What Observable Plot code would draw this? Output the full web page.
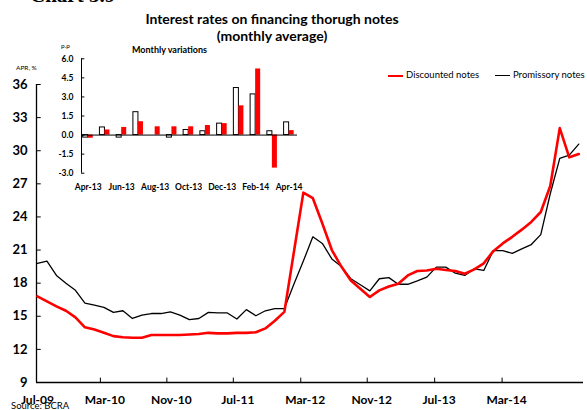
<!DOCTYPE html>
<html>
<head>
<meta charset="utf-8">
<script src="https://cdn.jsdelivr.net/npm/d3@7"></script>
<script src="https://cdn.jsdelivr.net/npm/@observablehq/plot@0.6"></script>
<style>
  html, body { margin: 0; padding: 0; background: #fff; }
  #wrap { position: relative; width: 587px; height: 410px; overflow: hidden; font-family: Lato, "Open Sans", sans-serif; color: #000; }
  .abs { position: absolute; white-space: nowrap; }
  .title { left: 0; width: 544px; text-align: center; font-weight: bold; font-size: 14px; }
  .leg { font-size: 9.5px; }
  .sw { position: absolute; height: 0; }
  svg { position: absolute; overflow: visible; }
</style>
</head>
<body>
<div id="wrap">
  <div class="abs" style="left:30px; top:-17px; font-family:'Liberation Serif',serif; font-weight:bold; font-size:21px;">Chart 3.9</div>
  <div class="abs title" style="top:10px;">Interest rates on financing thorugh notes</div>
  <div class="abs title" style="top:27px;">(monthly average)</div>
  <div class="abs" style="left:16px; top:64px; font-size:6.5px;">APR, %</div>
  <div class="abs" style="left:61px; top:42px; font-size:6.5px;">p.p</div>
  <div class="abs" style="left:132px; top:44px; font-size:9px; font-weight:bold;">Monthly variations</div>
  <div class="sw" style="left:388px; top:75px; width:15px; border-top:2.5px solid #ff0000;"></div>
  <div class="abs leg" style="left:406px; top:69px;">Discounted notes</div>
  <div class="sw" style="left:495px; top:75px; width:15px; border-top:1.5px solid #000;"></div>
  <div class="abs leg" style="left:513px; top:69px;">Promissory notes</div>
  <div class="abs" style="left:11px; top:400px; font-size:9.5px;">Source: BCRA</div>
</div>
<script>
// Monthly averages, Jul-09 .. Apr-14 (APR, %)
const discounted = [16.8, 16.35, 15.9, 15.5, 14.9, 14.0, 13.8, 13.5, 13.2, 13.1,
  13.05, 13.05, 13.3, 13.3, 13.3, 13.3, 13.35, 13.4, 13.5, 13.45,
  13.45, 13.5, 13.5, 13.55, 13.9, 14.6, 15.4, 20.8, 26.2, 25.7,
  23.4, 21.0, 19.5, 18.25, 17.5, 16.75, 17.35, 17.7, 17.95, 18.7,
  19.1, 19.15, 19.3, 19.2, 19.1, 18.85, 19.25, 19.8, 20.9, 21.6,
  22.2, 22.85, 23.55, 24.45, 26.8, 32.05, 29.4, 29.7];
const promissory = [19.8, 20.0, 18.7, 18.0, 17.35, 16.2, 16.0, 15.8, 15.35, 15.5,
  14.8, 15.1, 15.25, 15.25, 15.4, 15.1, 14.7, 14.8, 15.35, 15.3,
  15.3, 14.75, 15.6, 15.05, 15.5, 15.7, 15.7, 17.9, 20.0, 22.2,
  21.6, 20.2, 19.5, 18.4, 17.85, 17.3, 18.4, 18.5, 17.9, 17.9,
  18.2, 18.55, 19.45, 19.45, 18.9, 18.7, 19.3, 19.15, 20.95, 20.95,
  20.7, 21.1, 21.5, 22.4, 26.1, 29.3, 29.6, 30.6];
const xTickLabels = ["Jul-09", "Mar-10", "Nov-10", "Jul-11", "Mar-12", "Nov-12", "Jul-13", "Mar-14"];
const xTickAt = [0, 7.1, 14.1, 21.1, 28.2, 35.2, 42.3, 49.4];
const yTicks = [9, 12, 15, 18, 21, 24, 27, 30, 33, 36];

// Inset: monthly variations (p.p), Apr-13 .. Apr-14
const insetMonths = ["Apr-13","May-13","Jun-13","Jul-13","Aug-13","Sep-13","Oct-13","Nov-13","Dec-13","Jan-14","Feb-14","Mar-14","Apr-14"];
const promissoryVar = [-0.2, 0.6, -0.2, 1.8, 0.0, -0.2, 0.4, 0.3, 0.9, 3.7, 3.2, 0.3, 1.0];
const discountedVar = [-0.25, 0.4, 0.6, 1.05, 0.65, 0.65, 0.65, 0.75, 0.9, 2.3, 5.2, -2.6, 0.35];
const insetLabelIdx = [0, 2, 4, 6, 8, 10, 12];
const insetYTicks = [-3, -1.5, 0, 1.5, 3, 4.5, 6];

const FONT = "Lato, 'Open Sans', sans-serif";
const x0 = -0.1, x1 = 57.5;

const main = Plot.plot({
  width: 587, height: 410,
  marginTop: 84, marginBottom: 28, marginLeft: 36, marginRight: 4,
  x: {domain: [x0, x1], axis: null},
  y: {domain: [9, 36], axis: null},
  style: {fontFamily: FONT, background: "transparent", overflow: "visible"},
  marks: [
    Plot.ruleX([x0], {y1: 9, y2: 36, stroke: "black", strokeWidth: 1.3}),
    Plot.ruleY([9], {x1: x0, x2: x1, stroke: "black", strokeWidth: 1.3}),
    Plot.ruleY(yTicks, {y: d => d, x1: x0, x2: x0 + 0.5, stroke: "black", strokeWidth: 1}),
    Plot.text(yTicks, {x: x0, y: d => d, text: d => String(d), textAnchor: "end", dx: -9, fontWeight: "bold", fontSize: 13}),
    Plot.ruleX(xTickAt.slice(1), {x: d => d, y1: 9, y2: 9.4, dx: -4.5, stroke: "black", strokeWidth: 1}),
    Plot.text(xTickAt, {x: d => d, y: 9, text: (d, i) => xTickLabels[i], dy: 18, fontWeight: "bold", fontSize: 12}),
    Plot.line(promissory, {x: (d, i) => i, y: d => d, stroke: "black", strokeWidth: 1.3}),
    Plot.line(discounted, {x: (d, i) => i, y: d => d, stroke: "#ff0000", strokeWidth: 2.6})
  ]
});
main.style.left = "0px"; main.style.top = "0px";

const ix0 = -0.4, ix1 = 12.5;
const inset = Plot.plot({
  width: 310, height: 160,
  marginTop: 18.3, marginBottom: 27.3, marginLeft: 81, marginRight: 13,
  x: {domain: [ix0, ix1], axis: null},
  y: {domain: [-3, 6], axis: null},
  style: {fontFamily: FONT, background: "transparent", overflow: "visible"},
  marks: [
    Plot.rectY(promissoryVar, {x1: (d, i) => i - 0.3, x2: (d, i) => i, y1: 0, y2: d => d, fill: "white", stroke: "black", strokeWidth: 1}),
    Plot.rectY(discountedVar, {x1: (d, i) => i, x2: (d, i) => i + 0.3, y1: 0, y2: d => d, fill: "#ff0000"}),
    Plot.ruleY([0], {x1: ix0, x2: ix1, stroke: "black", strokeWidth: 1}),
    Plot.ruleX([ix0], {y1: -3, y2: 6, stroke: "black", strokeWidth: 1}),
    Plot.ruleY(insetYTicks, {y: d => d, x1: ix0, x2: ix0 + 0.2, stroke: "black", strokeWidth: 1}),
    Plot.text(insetYTicks, {x: ix0, y: d => d, text: d => d.toFixed(1), textAnchor: "end", dx: -8, fontWeight: "bold", fontSize: 8.5}),
    Plot.text(insetLabelIdx, {x: d => d, y: -3, text: d => insetMonths[d], dy: 14, fontWeight: "bold", fontSize: 8.5})
  ]
});
inset.style.left = "0px"; inset.style.top = "40px";

const wrap = document.getElementById("wrap");
wrap.appendChild(main);
wrap.appendChild(inset);
</script>
</body>
</html>
